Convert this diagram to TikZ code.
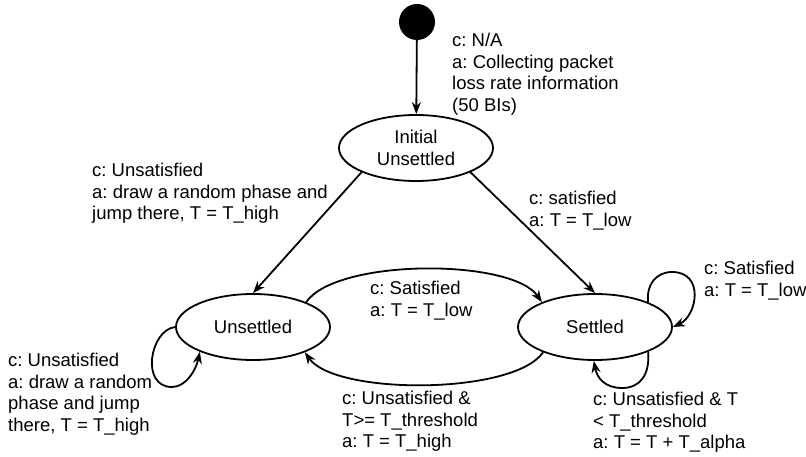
\documentclass[tikz,border=0pt]{standalone}
\usepackage{fontspec}
\setmainfont{Liberation Sans}
\usetikzlibrary{shapes.geometric,arrows.meta}
\frenchspacing

\begin{document}
\begin{tikzpicture}[x=1pt,y=-1pt,
  every node/.style={font=\fontsize{18.5pt}{21.5pt}\selectfont},
  state/.style={ellipse, draw, line width=1.8pt, minimum width=154pt,
    minimum height=66pt, inner sep=0pt, align=center},
  startdot/.style={circle, fill=black, minimum size=36pt, inner sep=0pt},
  lbl/.style={anchor=north west, align=left, inner sep=0pt},
  trans/.style={line width=1.8pt, -{Stealth[length=12pt,width=9pt]}}
]
\useasboundingbox (0,0) rectangle (806,457);

% states
\node[startdot] (init) at (417,22) {};
\node[state] (I) at (416,148) {Initial\\Unsettled};
\node[state] (U) at (253,327) {Unsettled};
\node[state] (S) at (595,327) {Settled};

% transitions
\draw[trans] (init) -- (I);
\draw[trans] (I.204) -- (U.north);
\draw[trans] (I.336) -- (S.north);
\draw[trans] (U.25) .. controls +(30,-44) and +(-30,-44) .. (S.155);
\draw[trans] (S.206) .. controls +(-30,43) and +(30,43) .. (U.334);
% self loops
\draw[trans] (U.180) .. controls (150,330) and (140,387) .. (172,387)
  .. controls (186,387) and (196,370) .. (U.205);
\draw[trans] (S.25) .. controls (646,285) and (656,272) .. (672,272)
  .. controls (705,272) and (697,316) .. (S.0);
\draw[trans] (S.335) .. controls (650,375) and (640,388) .. (622,388)
  .. controls (605,388) and (597,378) .. (S.268);

% transition labels
\node[lbl] (l0) at (452,33) {c: N/A\\a: Collecting packet\\loss rate information\\(50 BIs)};
\node[lbl] (l1) at (92,163) {c: Unsatisfied\\a: draw a random phase and\\jump there, T = T\_high};
\node[lbl] (l2) at (529,191) {c: satisfied\\a: T = T\_low};
\node[lbl] (l3) at (370,281) {c: Satisfied\\a: T = T\_low};
\node[lbl] (l4) at (704,261) {c: Satisfied\\a: T = T\_low};
\node[lbl] (l5) at (8,353) {c: Unsatisfied\\a: draw a random\\phase and jump\\there, T = T\_high};
\node[lbl] (l6) at (342,391) {c: Unsatisfied \&\\T>= T\_threshold\\a: T = T\_high};
\node[lbl] (l7) at (593,392) {c: Unsatisfied \& T\\< T\_threshold\\a: T = T + T\_alpha};
\end{tikzpicture}
\end{document}
